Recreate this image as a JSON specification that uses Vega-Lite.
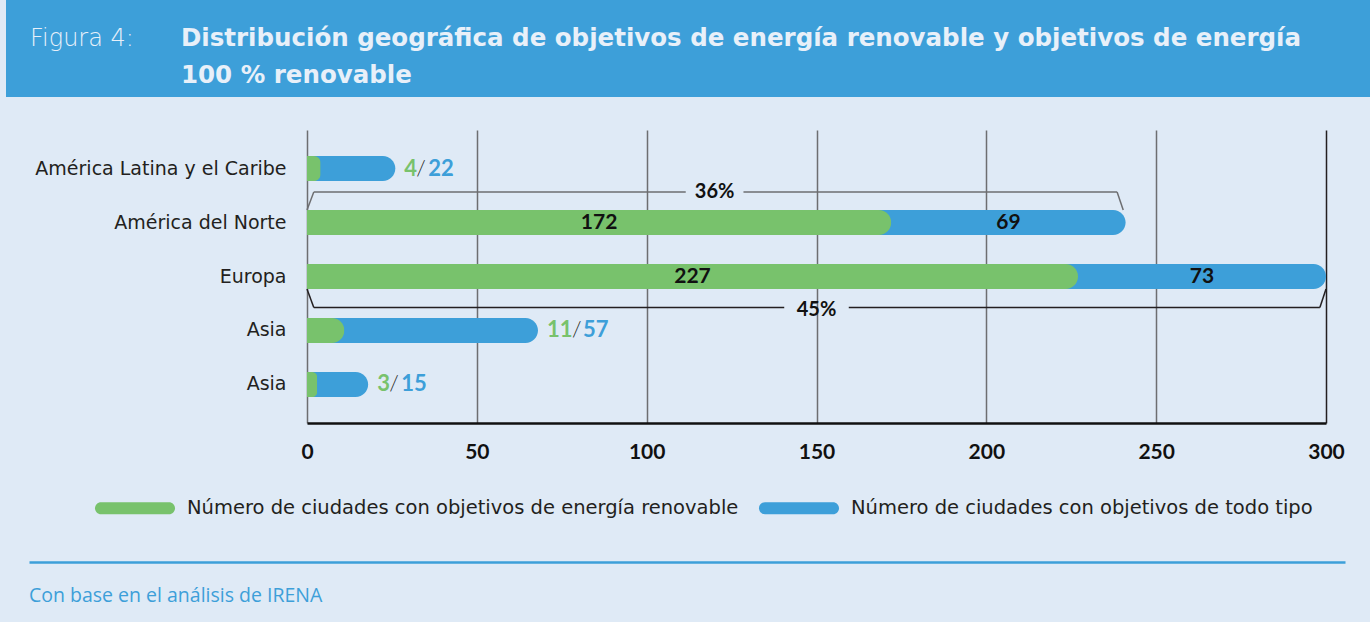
{
  "$schema": "https://vega.github.io/schema/vega-lite/v6.json",
  "background": "#dfeaf6",
  "padding": {"left": 6, "top": 0, "right": 0, "bottom": 20},
  "spacing": 33,
  "datasets": {
    "regiones": [
      {"region": "América Latina y el Caribe", "renovable": 4, "otros": 22},
      {"region": "América del Norte", "renovable": 172, "otros": 69},
      {"region": "Europa", "renovable": 227, "otros": 73},
      {"region": "Asia", "renovable": 11, "otros": 57},
      {"region": "Asia ", "renovable": 3, "otros": 15}
    ],
    "tramos": [
      {"region": "América del Norte", "lado": "arriba", "desde": 2, "hasta": 111.5},
      {"region": "América del Norte", "lado": "arriba", "desde": 128.5, "hasta": 238.5},
      {"region": "Europa", "lado": "abajo", "desde": 2, "hasta": 140.5},
      {"region": "Europa", "lado": "abajo", "desde": 159.5, "hasta": 298.2}
    ],
    "diagonales": [
      {"region": "América del Norte", "lado": "arriba", "barra": 0, "linea": 2},
      {"region": "América del Norte", "lado": "arriba", "barra": 240.3, "linea": 238.5},
      {"region": "Europa", "lado": "abajo", "barra": 0, "linea": 2},
      {"region": "Europa", "lado": "abajo", "barra": 300, "linea": 298.2}
    ],
    "porcentajes": [
      {"region": "América del Norte", "lado": "arriba", "pos": 120, "etiqueta": "36%"},
      {"region": "Europa", "lado": "abajo", "pos": 150, "etiqueta": "45%"}
    ]
  },
  "vconcat": [
    {
      "spacing": 0,
      "hconcat": [
        {
          "width": 170, "height": 97,
          "view": {"fill": "#3d9fd9", "stroke": null},
          "data": {"values": [{}]},
          "mark": {"type": "text"},
          "title": {"text": "Figura 4:", "anchor": "start", "frame": "group", "offset": -51, "dx": 24, "font": "DejaVu Sans", "fontWeight": 200, "fontSize": 24, "color": "#e8f0f9", "baseline": "top"}
        },
        {
          "width": 1194, "height": 97,
          "view": {"fill": "#3d9fd9", "stroke": null},
          "data": {"values": [{}]},
          "mark": {"type": "text"},
          "title": {"text": ["Distribución geográfica de objetivos de energía renovable y objetivos de energía", "100 % renovable"], "anchor": "start", "frame": "group", "offset": -88, "dx": 5, "font": "DejaVu Sans", "fontWeight": "bold", "fontSize": 24.5, "lineHeight": 37, "color": "#e8f0f9", "baseline": "top"}
        }
      ]
    },
    {
      "spacing": 0,
      "bounds": "flush",
      "hconcat": [
        {
          "width": 301, "height": 293,
          "view": {"stroke": null},
          "data": {"values": [{}]},
          "mark": {"type": "text"}
        },
        {
          "width": 1019, "height": 293,
          "data": {"name": "regiones"},
          "layer": [
            {
              "transform": [{"fold": ["renovable", "otros"], "as": ["serie", "valor"]}],
              "mark": {"type": "bar", "cornerRadiusEnd": 12.5},
              "encoding": {
                "y": {"field": "region", "type": "nominal", "sort": null,
                  "scale": {"domain": ["América Latina y el Caribe", "América del Norte", "Europa", "Asia", "Asia "], "paddingInner": 0.537, "paddingOuter": 0.4815},
                  "axis": {"title": null, "domain": false, "ticks": false, "grid": false, "labelFont": "DejaVu Sans", "labelFontSize": 19, "labelColor": "#231f20", "labelPadding": 21, "minExtent": 301, "maxExtent": 301, "labelLimit": 300, "labelExpr": "trim(datum.label)"}},
                "x": {"aggregate": "sum", "field": "valor", "type": "quantitative", "title": null,
                  "scale": {"domain": [0, 300], "nice": false},
                  "axis": {"values": [0, 50, 100, 150, 200, 250, 300], "title": null, "grid": true,
                    "gridColor": {"condition": {"test": "datum.value == 300", "value": "#231f20"}, "value": "#6d6e71"},
                    "gridWidth": 1.5, "domainColor": "#111111", "domainWidth": 2.5, "ticks": false,
                    "labelFont": "Lato", "labelFontWeight": "bold", "labelFontSize": 21, "labelColor": "#111111", "labelPadding": 18, "labelFlush": false}},
                "color": {"datum": "otros", "type": "nominal",
                  "scale": {"domain": ["renovable", "otros"], "range": ["#78c26c", "#3d9fd9"]},
                  "legend": {"orient": "none", "legendX": 89, "legendY": 468, "direction": "horizontal", "title": null,
                    "symbolType": "M-0.85,-0.15L0.85,-0.15A0.15,0.15 0 0 1 0.85,0.15L-0.85,0.15A0.15,0.15 0 0 1 -0.85,-0.15Z",
                    "symbolSize": 6400, "symbolStrokeWidth": 0, "symbolOpacity": 1,
                    "labelFont": "DejaVu Sans", "labelFontSize": 19.5, "labelColor": "#231f20", "labelOffset": 12, "columnPadding": 20, "labelLimit": 700,
                    "labelExpr": "datum.label == 'renovable' ? 'Número de ciudades con objetivos de energía renovable' : 'Número de ciudades con objetivos de todo tipo'"}}
              }
            },
            {
              "mark": {"type": "bar", "cornerRadiusEnd": 12.5},
              "encoding": {
                "y": {"field": "region", "type": "nominal"},
                "x": {"field": "renovable", "type": "quantitative", "title": null},
                "color": {"datum": "renovable", "type": "nominal"}
              }
            },
            {
              "transform": [{"fold": ["renovable", "otros"], "as": ["serie", "valor"]}, {"filter": "datum.renovable > 100"}],
              "mark": {"type": "text", "font": "Lato", "fontWeight": "bold", "fontSize": 21, "color": "#111111", "baseline": "middle"},
              "encoding": {
                "y": {"field": "region", "type": "nominal"},
                "x": {"field": "valor", "type": "quantitative", "stack": "zero", "bandPosition": 0.5, "title": null},
                "detail": {"field": "serie"},
                "order": {"field": "serie", "sort": "descending"},
                "text": {"field": "valor", "type": "quantitative"}
              }
            },
            {
              "transform": [
                {"filter": "datum.renovable < 100"},
                {"fold": ["renovable", "otros"], "as": ["serie", "valor"]},
                {"joinaggregate": [{"op": "sum", "field": "valor", "as": "total"}], "groupby": ["region"]},
                {"filter": "datum.serie == 'renovable'"}
              ],
              "encoding": {
                "y": {"field": "region", "type": "nominal"},
                "x": {"field": "total", "type": "quantitative", "title": null}
              },
              "layer": [
                {"mark": {"type": "text", "align": "left", "baseline": "middle", "dx": 9, "font": "Lato", "fontWeight": "bold", "fontSize": 22, "color": "#78c26c"},
                 "encoding": {"text": {"field": "renovable", "type": "quantitative"}}},
                {"transform": [{"filter": "datum.renovable < 10"}],
                 "mark": {"type": "text", "align": "left", "baseline": "middle", "dx": 21, "font": "Lato", "fontWeight": 300, "fontSize": 22, "color": "#231f20", "text": "/"}},
                {"transform": [{"filter": "datum.renovable >= 10"}],
                 "mark": {"type": "text", "align": "left", "baseline": "middle", "dx": 34, "font": "Lato", "fontWeight": 300, "fontSize": 22, "color": "#231f20", "text": "/"}},
                {"transform": [{"filter": "datum.renovable < 10"}],
                 "mark": {"type": "text", "align": "left", "baseline": "middle", "dx": 33, "font": "Lato", "fontWeight": "bold", "fontSize": 22, "color": "#3d9fd9"},
                 "encoding": {"text": {"field": "otros", "type": "quantitative"}}},
                {"transform": [{"filter": "datum.renovable >= 10"}],
                 "mark": {"type": "text", "align": "left", "baseline": "middle", "dx": 45, "font": "Lato", "fontWeight": "bold", "fontSize": 22, "color": "#3d9fd9"},
                 "encoding": {"text": {"field": "otros", "type": "quantitative"}}}
              ]
            },
            {
              "data": {"name": "tramos"},
              "transform": [{"filter": "datum.lado == 'arriba'"}],
              "mark": {"type": "rule", "yOffset": -30.5, "y2Offset": -30.5, "color": "#6d6e71", "strokeWidth": 1.5},
              "encoding": {
                "y": {"field": "region", "type": "nominal"},
                "x": {"field": "desde", "type": "quantitative", "title": null},
                "x2": {"field": "hasta"}
              }
            },
            {
              "data": {"name": "tramos"},
              "transform": [{"filter": "datum.lado == 'abajo'"}],
              "mark": {"type": "rule", "yOffset": 31, "y2Offset": 31, "color": "#231f20", "strokeWidth": 1.5},
              "encoding": {
                "y": {"field": "region", "type": "nominal"},
                "x": {"field": "desde", "type": "quantitative", "title": null},
                "x2": {"field": "hasta"}
              }
            },
            {
              "data": {"name": "diagonales"},
              "transform": [{"filter": "datum.lado == 'arriba'"}],
              "mark": {"type": "rule", "yOffset": -12.5, "y2Offset": -30.5, "color": "#6d6e71", "strokeWidth": 1.5},
              "encoding": {
                "y": {"field": "region", "type": "nominal"},
                "y2": {"field": "region"},
                "x": {"field": "barra", "type": "quantitative", "title": null},
                "x2": {"field": "linea"}
              }
            },
            {
              "data": {"name": "diagonales"},
              "transform": [{"filter": "datum.lado == 'abajo'"}],
              "mark": {"type": "rule", "yOffset": 12.5, "y2Offset": 31, "color": "#231f20", "strokeWidth": 1.5},
              "encoding": {
                "y": {"field": "region", "type": "nominal"},
                "y2": {"field": "region"},
                "x": {"field": "barra", "type": "quantitative", "title": null},
                "x2": {"field": "linea"}
              }
            },
            {
              "data": {"name": "porcentajes"},
              "transform": [{"filter": "datum.lado == 'arriba'"}],
              "mark": {"type": "text", "yOffset": -30.5, "baseline": "middle", "font": "Lato", "fontWeight": "bold", "fontSize": 20, "color": "#111111"},
              "encoding": {
                "y": {"field": "region", "type": "nominal"},
                "x": {"field": "pos", "type": "quantitative", "title": null},
                "text": {"field": "etiqueta"}
              }
            },
            {
              "data": {"name": "porcentajes"},
              "transform": [{"filter": "datum.lado == 'abajo'"}],
              "mark": {"type": "text", "yOffset": 33, "baseline": "middle", "font": "Lato", "fontWeight": "bold", "fontSize": 20, "color": "#111111"},
              "encoding": {
                "y": {"field": "region", "type": "nominal"},
                "x": {"field": "pos", "type": "quantitative", "title": null},
                "text": {"field": "etiqueta"}
              }
            }
          ]
        }
      ]
    },
    {
      "spacing": 0,
      "hconcat": [
        {
          "width": 23, "height": 1,
          "view": {"stroke": null},
          "data": {"values": [{}]},
          "mark": {"type": "text"}
        },
        {
          "width": 1316, "height": 1,
          "view": {"stroke": null},
          "data": {"values": [{}]},
          "mark": {"type": "text"},
          "encoding": {
            "x": {"datum": 0, "type": "quantitative", "scale": {"domain": [0, 1]},
              "axis": {"orient": "top", "domain": true, "domainColor": "#3d9fd9", "domainWidth": 2.5, "ticks": false, "labels": false, "grid": false, "title": null, "minExtent": 67, "maxExtent": 67}}
          },
          "title": {"text": "Con base en el análisis de IRENA", "orient": "bottom", "anchor": "start", "frame": "group", "offset": 19, "font": "Open Sans", "fontSize": 19.5, "fontWeight": "normal", "color": "#3d9fd9", "baseline": "top"}
        }
      ]
    }
  ],
  "config": {
    "view": {"stroke": null}
  }
}
